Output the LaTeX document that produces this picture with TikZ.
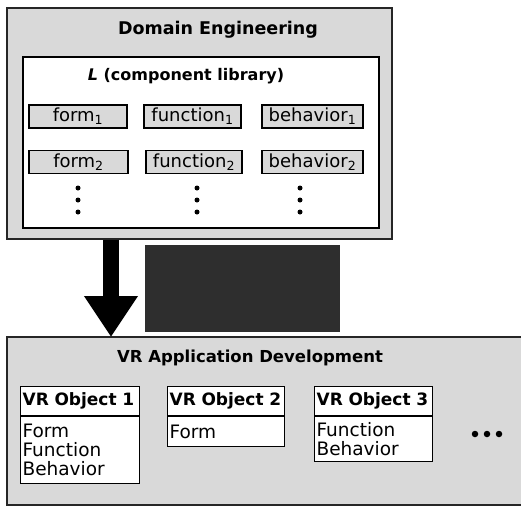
\documentclass[tikz,border=0pt]{standalone}
\usepackage{fontspec}
\setmainfont{DejaVu Sans}
\usetikzlibrary{arrows.meta}
\definecolor{scan}{gray}{0.85}
\definecolor{darkscan}{gray}{0.18}
\tikzset{
  panel/.style={draw=black!85, line width=1.2pt, fill=scan, inner sep=0pt},
  libbox/.style={draw=black, line width=1.8pt, fill=white, inner sep=0pt},
  comp/.style={draw=black, line width=1.2pt, fill=scan, minimum height=23pt, inner sep=0pt,
    font=\fontsize{18}{18}\selectfont},
  bigtitle/.style={font=\bfseries\fontsize{17.5}{17.5}\selectfont, inner sep=0pt},
  vdot/.style={circle, fill=black, inner sep=0pt, minimum size=5pt},
  objhead/.style={draw=black, line width=1.2pt, fill=white, anchor=north west, text width=115pt,
    align=left, inner xsep=2pt, inner ysep=0pt, minimum height=29pt,
    font=\bfseries\fontsize{17}{17}\selectfont},
  objbody/.style={draw=black, line width=1.2pt, fill=white, anchor=north west, text width=115pt,
    align=left, inner xsep=2pt, inner ysep=0pt,
    font=\fontsize{18.5}{19}\selectfont},
}
\newcommand{\sbs}[1]{\textsubscript{#1}}
\begin{document}
\begin{tikzpicture}[x=1pt,y=-1pt]
\useasboundingbox (0,0) rectangle (521,506);
% top panel
\node[panel, minimum width=385pt, minimum height=231pt] (de) at (199.5,123.5) {};
\node[bigtitle] (detitle) at (218,30) {Domain Engineering};
\node[libbox, minimum width=356pt, minimum height=171pt] (lib) at (201,142.5) {};
\node[font=\bfseries\fontsize{16}{16}\selectfont, inner sep=0pt] (libtitle) at (186,76) {\textit{L} (component library)};
% components
\node[comp, minimum width=98pt]  (form1) at (78,116.5) {form\sbs{1}};
\node[comp, minimum width=97pt]  (func1) at (192.5,116.5) {function\sbs{1}};
\node[comp, minimum width=101pt] (beh1)  at (312.5,116.5) {behavior\sbs{1}};
\node[comp, minimum width=99pt]  (form2) at (78.5,162) {form\sbs{2}};
\node[comp, minimum width=96pt]  (func2) at (194,162) {function\sbs{2}};
\node[comp, minimum width=101pt] (beh2)  at (312.5,162) {behavior\sbs{2}};
\foreach \x/\n in {78/a,197/b,300/c}{
  \foreach \y/\m in {188/1,200/2,212/3}{
    \node[vdot] (d\n\m) at (\x,\y) {};
  }
}
% dark block
\node[fill=darkscan, minimum width=195pt, minimum height=87pt, inner sep=0pt] (dark) at (242.5,288.5) {};
% bottom panel
\fill[scan] (7,337) rectangle (521,505);
\coordinate (vrnw) at (7,337);
\coordinate (vrne) at (521,337);
\coordinate (vrsw) at (7,505);
\coordinate (vrse) at (521,505);
\draw[draw=black!85, line width=1.2pt] (vrne) -- (vrnw) -- (vrsw) -- (vrse);
\coordinate (vrtop) at (111,337);
\node[font=\bfseries\fontsize{16.5}{16.5}\selectfont, inner sep=0pt] (vrtitle) at (250,358) {VR Application Development};
% arrow
\draw[line width=16pt, -{Triangle[width=51pt,length=41pt]}] (de.south -| vrtop) -- (vrtop);
% objects
\node[objhead] (o1h) at (20,386) {VR Object 1};
\node[objbody, minimum height=67pt] (o1b) at (o1h.south west) {Form\\Function\\Behavior\\[-4pt]};
\node[objhead, text width=113pt] (o2h) at (167,386) {VR Object 2};
\node[objbody, text width=113pt, minimum height=30pt] (o2b) at (o2h.south west) {Form};
\node[objhead, text width=114pt] (o3h) at (314,386) {VR Object 3};
\node[objbody, text width=114pt, minimum height=45pt] (o3b) at (o3h.south west) {Function\\Behavior};
\foreach \x/\n in {475/1,487/2,499/3}{
  \node[circle, fill=black, inner sep=0pt, minimum size=6.5pt] (e\n) at (\x,434) {};
}
\end{tikzpicture}
\end{document}
